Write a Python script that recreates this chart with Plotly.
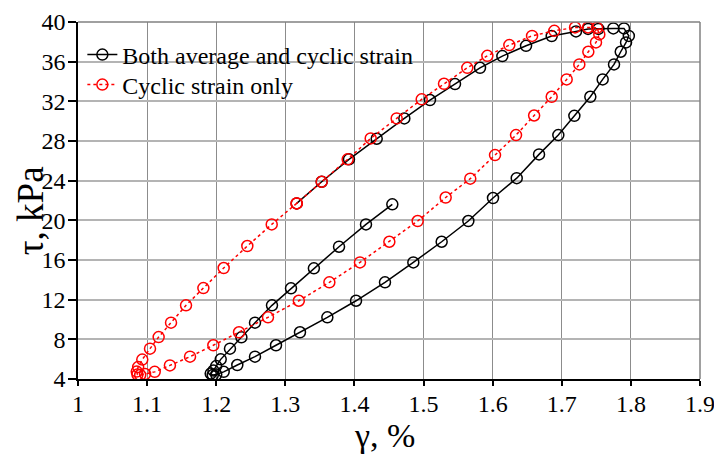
import plotly.graph_objects as go

# Both average and cyclic strain (black)
both_x = [1.4548, 1.4167, 1.3777, 1.3413, 1.3082, 1.2807, 1.2561, 1.2364, 1.2199, 1.2065,
          1.2, 1.196, 1.192, 1.195, 1.2, 1.2108, 1.2305, 1.2561, 1.2865, 1.3212,
          1.3608, 1.4023, 1.4442, 1.4852, 1.5262, 1.5648, 1.6005, 1.6348, 1.6671, 1.695,
          1.7182, 1.7413, 1.7592, 1.7756, 1.7853, 1.793, 1.797, 1.79, 1.7746, 1.753,
          1.738, 1.7206, 1.6854, 1.6483, 1.614, 1.5817, 1.5455, 1.5093, 1.4722, 1.4322,
          1.3921, 1.3526, 1.3164]
both_y = [21.61, 19.59, 17.34, 15.16, 13.14, 11.43, 9.68, 8.2, 7.06, 5.98,
          5.3, 4.85, 4.55, 4.4, 4.45, 4.72, 5.41, 6.25, 7.4, 8.71,
          10.22, 11.89, 13.75, 15.76, 17.84, 19.93, 22.25, 24.25, 26.65, 28.6,
          30.54, 32.46, 34.21, 35.72, 37.0, 37.94, 38.6, 39.35, 39.35, 39.3,
          39.3, 39.05, 38.58, 37.6, 36.56, 35.38, 33.74, 32.13, 30.28, 28.23,
          26.15, 23.89, 21.71]

# Cyclic strain only (red)
cyc_x = [1.3164, 1.2803, 1.245, 1.2108, 1.1814, 1.1563, 1.1346, 1.1167, 1.1042, 1.093,
         1.087, 1.085, 1.086, 1.09, 1.097, 1.111, 1.133, 1.1621, 1.1958, 1.233,
         1.2749, 1.3195, 1.3637, 1.408, 1.4505, 1.4915, 1.532, 1.5676, 1.6034, 1.6338,
         1.66, 1.6854, 1.7071, 1.7254, 1.7384, 1.7495, 1.7543, 1.751, 1.738, 1.7192,
         1.6892, 1.657, 1.6241, 1.5923, 1.5633, 1.5296, 1.4973, 1.4611, 1.4235, 1.3902,
         1.3526, 1.3164]
cyc_y = [21.71, 19.59, 17.41, 15.19, 13.17, 11.43, 9.68, 8.23, 7.06, 5.96,
         5.2, 4.75, 4.45, 4.4, 4.5, 4.72, 5.37, 6.25, 7.4, 8.71,
         10.22, 11.89, 13.75, 15.76, 17.84, 19.93, 22.3, 24.2, 26.58, 28.6,
         30.57, 32.46, 34.21, 35.72, 37.0, 37.94, 38.75, 39.41, 39.45, 39.45,
         39.11, 38.6, 37.67, 36.59, 35.38, 33.77, 32.2, 30.28, 28.26, 26.15,
         23.89, 21.71]

x_ticks = [1, 1.1, 1.2, 1.3, 1.4, 1.5, 1.6, 1.7, 1.8, 1.9]
x_labels = ["1", "1.1", "1.2", "1.3", "1.4", "1.5", "1.6", "1.7", "1.8", "1.9"]
y_ticks = [4, 8, 12, 16, 20, 24, 28, 32, 36, 40]

font_family = "Liberation Serif"

fig = go.Figure()
fig.add_trace(go.Scatter(
    x=both_x, y=both_y, mode="lines+markers", name="Both average and cyclic strain",
    line=dict(color="black", width=1.5), legend="legend",
    marker=dict(symbol="circle-open", size=11, color="black", line=dict(width=1.5)),
))
fig.add_trace(go.Scatter(
    x=cyc_x, y=cyc_y, mode="lines+markers", name="Cyclic strain only",
    line=dict(color="#ff0000", width=1.5, dash="3px,3px"), legend="legend2",
    marker=dict(symbol="circle-open", size=11, color="#ff0000", line=dict(width=1.5)),
))

legend_common = dict(xanchor="left", yanchor="middle", bgcolor="rgba(0,0,0,0)", borderwidth=0,
                     font=dict(family=font_family, size=24, color="black"),
                     itemwidth=30, tracegroupgap=0)

fig.update_layout(
    width=714, height=454,
    margin=dict(l=78, r=14, t=22, b=75),
    paper_bgcolor="white", plot_bgcolor="white",
    font=dict(family=font_family, size=24, color="black"),
    showlegend=True,
    legend=dict(x=0.007, y=0.9076, **legend_common),
    legend2=dict(x=0.007, y=0.8235, **legend_common),
    xaxis=dict(
        range=[1, 1.9], tickvals=x_ticks, ticktext=x_labels,
        showgrid=True, gridcolor="#8c8c8c", gridwidth=1,
        showline=True, linecolor="black", linewidth=1.5,
        ticks="outside", ticklen=5, tickcolor="black", tickwidth=1.5,
        tickfont=dict(family=font_family, size=24),
        ticklabeloverflow="allow", ticklabelstandoff=-3,
        zeroline=False, automargin=False,
    ),
    yaxis=dict(
        range=[4, 40], tickvals=y_ticks,
        showgrid=True, gridcolor="#b4b4b4", gridwidth=1.5,
        showline=True, linecolor="black", linewidth=1.5,
        ticks="outside", ticklen=8, tickcolor="black", tickwidth=1.5,
        tickfont=dict(family=font_family, size=24),
        ticklabeloverflow="allow", ticklabelstandoff=-2,
        zeroline=False, automargin=False,
    ),
    annotations=[
        dict(text="γ, %", xref="paper", yref="paper", x=0.492, y=-0.157,
             xanchor="center", yanchor="middle", showarrow=False,
             font=dict(family=font_family, size=34, color="black")),
        dict(text="τ, kPa", xref="paper", yref="paper", x=-0.077, y=0.47,
             xanchor="center", yanchor="middle", showarrow=False, textangle=-90,
             font=dict(family=font_family, size=37, color="black")),
    ],
    shapes=[
        # white legend box hiding the grid (drawn between grid and traces)
        dict(type="rect", xref="paper", yref="paper", layer="between",
             x0=(93 - 78) / 622, x1=(418 - 78) / 622,
             y0=(379 - 103) / 357, y1=(379 - 33) / 357,
             fillcolor="white", line=dict(width=0)),
        dict(type="line", xref="x domain", yref="y domain", x0=0, x1=1, y0=1, y1=1,
             line=dict(color="#808080", width=1.5)),
        dict(type="line", xref="x domain", yref="y domain", x0=1, x1=1, y0=0, y1=1,
             line=dict(color="#808080", width=1.5)),
    ],
)

fig.write_html("out.html")
